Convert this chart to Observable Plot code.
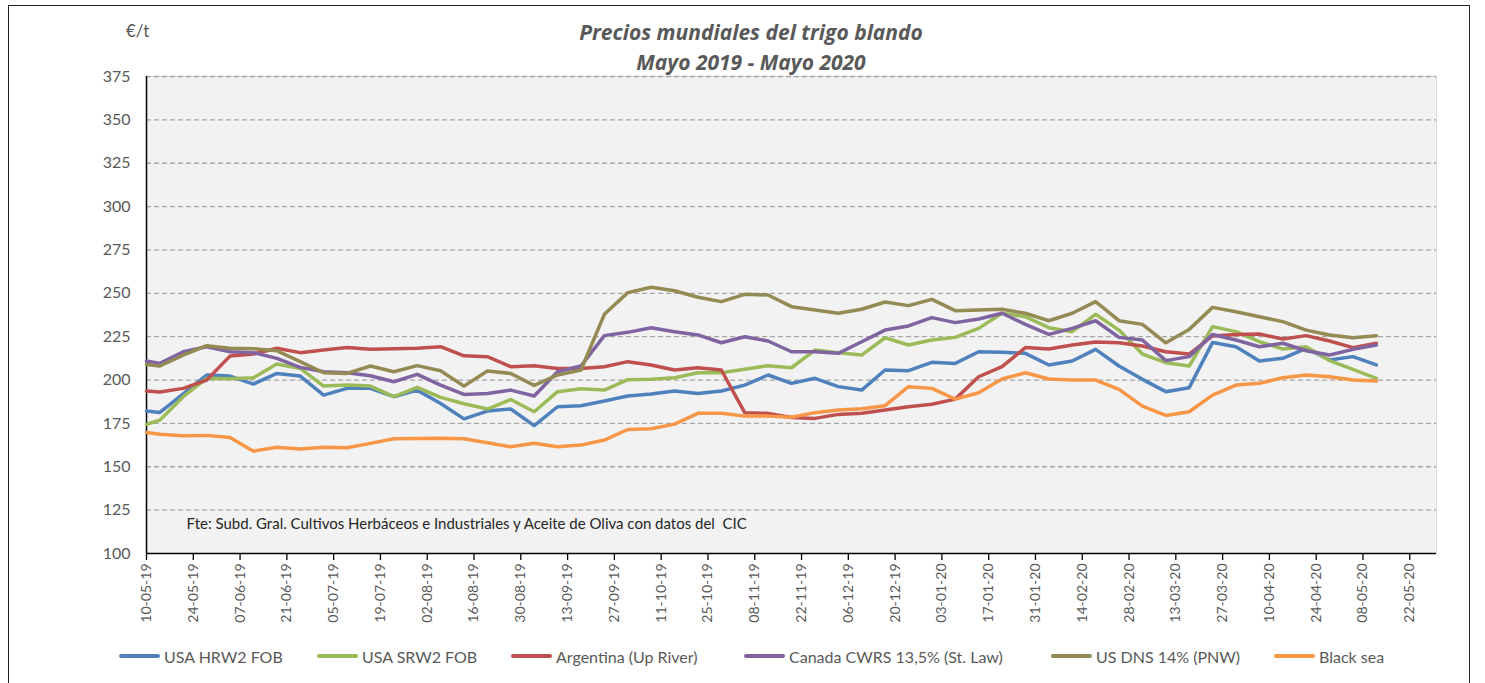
<!DOCTYPE html>
<html>
<head>
<meta charset="utf-8">
<script src="https://cdn.jsdelivr.net/npm/d3@7"></script>
<script src="https://cdn.jsdelivr.net/npm/@observablehq/plot@0.6"></script>
<style>
  html, body { margin: 0; padding: 0; background: #fff; }
  #wrap { position: relative; width: 1485px; height: 683px; overflow: hidden; font-family: Lato, "Open Sans", sans-serif; }
  #border { position: absolute; left: 8px; top: 5px; width: 1462px; height: 720px; border: 1.5px solid #222; box-sizing: border-box; }
  #title { position: absolute; left: 0; top: 17px; width: 1502px; text-align: center; font-family: "Open Sans", sans-serif; font-size: 21px; font-weight: bold; font-style: italic; color: #595959; line-height: 30px; }
  #unit { position: absolute; left: 126px; top: 20px; font-size: 17px; color: #595959; }
  #chart { position: absolute; left: 0; top: 0; }
  .leg { position: absolute; top: 646px; height: 20px; display: flex; align-items: center; font-size: 16px; color: #595959; white-space: nowrap; }
  .leg .sw { width: 41px; height: 4px; border-radius: 2px; margin-right: 4px; }
</style>
</head>
<body>
<div id="wrap">
  <div id="border"></div>
  <div id="chart"></div>
  <div id="title">Precios mundiales del trigo blando<br>Mayo 2019 - Mayo 2020</div>
  <div id="unit">€/t</div>
</div>
<script>
const dates = ["10-05-19","14-05-19","21-05-19","28-05-19","04-06-19","11-06-19","18-06-19","25-06-19",
  "02-07-19","09-07-19","16-07-19","23-07-19","30-07-19","06-08-19","13-08-19","20-08-19","27-08-19",
  "03-09-19","10-09-19","17-09-19","24-09-19","01-10-19","08-10-19","15-10-19","22-10-19","29-10-19",
  "05-11-19","12-11-19","19-11-19","26-11-19","03-12-19","10-12-19","17-12-19","24-12-19","31-12-19",
  "07-01-20","14-01-20","21-01-20","28-01-20","04-02-20","11-02-20","18-02-20","25-02-20",
  "03-03-20","10-03-20","17-03-20","24-03-20","31-03-20","07-04-20","14-04-20","21-04-20","28-04-20",
  "05-05-20","12-05-20"];

const seriesNames = ["USA HRW2 FOB","USA SRW2 FOB","Argentina (Up River)","Canada CWRS 13,5% (St. Law)","US DNS 14% (PNW)","Black sea"];
const seriesColors = ["#4f81bd","#9bbb59","#c0504d","#8064a2","#948a54","#f79646"];

const usaHrw2 = [182.1,181.3,192,202.9,202.3,197.7,203.8,202.3,191.3,195.2,195.2,190.4,194.2,186.5,177.6,182.1,183.3,173.7,184.6,185.2,187.9,190.8,191.9,193.7,192.3,193.7,197.1,202.9,198.1,201,196.2,194.2,205.8,205.4,210.2,209.6,216.3,216,215.4,208.7,211,217.7,208.1,200.4,193.3,195.6,221.7,219.2,211,212.5,218.3,211.5,213.5,208.7];
const usaSrw2 = [174.4,176.9,190.4,201,200.8,201.3,209.2,206.7,196.5,197.1,196.5,190.4,195.8,190,186.3,183.3,188.8,181.7,193.3,195,194.2,200.2,200.4,201.3,204.2,204.2,206.2,208.3,207.1,217.3,215.8,214.4,224.4,220.2,223.1,224.6,229.8,238.5,236.5,230.2,227.9,237.9,228.8,215,210,208.1,230.8,227.9,222.1,217.9,219.2,211.2,206.2,201];
const argentina = [193.7,193.1,195.2,200,213.8,215,218.3,215.8,217.3,218.7,217.7,218.1,218.3,219.2,214,213.5,207.7,208.3,206.7,206.7,207.7,210.6,208.7,205.8,207.1,205.8,181.2,180.8,178.4,177.9,180.2,180.8,182.7,184.6,186,189,201.9,207.7,218.7,217.9,220.2,221.9,221.5,219.6,216.3,215,225.4,226.3,226.5,223.7,225.6,222.5,218.7,221.2];
const canadaCwrs = [211,209.6,216.3,219.2,216.3,215.8,212.5,207.3,204.8,204.2,202.5,199,203.3,197.1,191.7,192.3,194.2,190.8,204.8,208.1,225.6,227.5,230.2,227.9,226,221.5,225,222.5,216.3,216.3,215.4,222.1,228.8,231.2,236,233.1,235.2,238.5,232.1,226.3,229.8,234.2,224.6,223.1,211.2,213.5,226.3,223.1,219.2,221.2,216.9,214.4,217.7,220.2];
const usDns = [209,208.1,214.4,219.8,218.3,218.1,216.9,210.6,204.2,203.8,208.1,204.8,208.3,205.4,196.5,205.2,203.8,196.9,202.9,205.8,237.9,250.4,253.5,251.5,247.7,245.2,249.4,249,242.3,240.4,238.5,240.8,245,242.9,246.5,240,240.4,240.8,238.5,234.2,238.5,245.2,234.2,232.1,221.5,229.2,241.9,239.4,236.5,233.7,228.8,226,224.4,225.6];
const blackSea = [169.8,168.8,167.9,168.1,166.9,159,161.2,160.2,161.2,161,163.5,166.2,166.3,166.5,166.2,163.8,161.5,163.5,161.5,162.5,165.4,171.5,171.9,174.6,180.8,180.8,179.2,179.2,178.6,181.2,182.7,183.5,185.2,196.2,195.2,189,192.7,200.6,204.2,200.6,200,200,194.6,185,179.6,181.7,191.3,197.1,198.1,201.3,202.9,201.9,200,199.4];

const xTickLabels = ["10-05-19","24-05-19","07-06-19","21-06-19","05-07-19","19-07-19","02-08-19","16-08-19",
  "30-08-19","13-09-19","27-09-19","11-10-19","25-10-19","08-11-19","22-11-19","06-12-19","20-12-19",
  "03-01-20","17-01-20","31-01-20","14-02-20","28-02-20","13-03-20","27-03-20","10-04-20","24-04-20",
  "08-05-20","22-05-20"];
const yTicks = [100,125,150,175,200,225,250,275,300,325,350,375];
const xDomain = ["10-05-19","30-05-20"];
const note = "Fte: Subd. Gral. Cultivos Herbáceos e Industriales y Aceite de Oliva con datos del\u00a0 CIC";

const parse = d3.utcParse("%d-%m-%y");
const fmt = d3.utcFormat("%d-%m-%y");
const allSeries = [usaHrw2, usaSrw2, argentina, canadaCwrs, usDns, blackSea];
const rows = [];
allSeries.forEach((vals, si) => {
  vals.forEach((v, i) => rows.push({series: seriesNames[si], date: parse(dates[i]), value: v}));
});
const xTicks = xTickLabels.map(parse);

const chart = Plot.plot({
  width: 1485,
  height: 640,
  marginLeft: 146,
  marginRight: 49,
  marginTop: 76,
  marginBottom: 87,
  style: {fontFamily: "Lato, 'Open Sans', sans-serif", background: "transparent", overflow: "visible"},
  x: {type: "utc", domain: xDomain.map(parse), label: null},
  y: {domain: [yTicks[0], yTicks[yTicks.length - 1]], label: null},
  color: {domain: seriesNames, range: seriesColors},
  marks: [
    Plot.frame({fill: "#f2f2f2", stroke: "#d9d9d9"}),
    Plot.gridY(yTicks.slice(1), {stroke: "#a6a6a6", strokeOpacity: 1, strokeWidth: 1.3, strokeDasharray: "5,3"}),
    Plot.axisY({ticks: yTicks, label: null, tickSize: 0, tickPadding: 16, fontSize: 16, fill: "#595959", tickFormat: d => String(d)}),
    Plot.axisX({ticks: xTicks, label: null, tickFormat: fmt, tickRotate: -90, tickSize: 7, tickPadding: 3, fontSize: 14, fill: "#595959", stroke: "#000", strokeWidth: 1.3}),
    Plot.ruleY([yTicks[0]], {stroke: "#000", strokeWidth: 1.5}),
    Plot.ruleX([parse(xDomain[0])], {stroke: "#000", strokeWidth: 1.5}),
    Plot.lineY(rows, {x: "date", y: "value", z: "series", stroke: "series", strokeWidth: 3.5, strokeLinejoin: "round", strokeLinecap: "round"}),
    Plot.text([note], {frameAnchor: "bottom-left", textAnchor: "start", lineAnchor: "middle", dx: 40, dy: -29, fontSize: 15, fill: "#262626"})
  ]
});
document.getElementById("chart").appendChild(chart);

// legend
const legLefts = [119, 317, 511, 744, 1051, 1274];
const wrap = document.getElementById("wrap");
seriesNames.forEach((name, i) => {
  const item = document.createElement("div");
  item.className = "leg";
  item.style.left = legLefts[i] + "px";
  const sw = document.createElement("div");
  sw.className = "sw";
  sw.style.background = seriesColors[i];
  const tx = document.createElement("span");
  tx.textContent = name;
  item.appendChild(sw);
  item.appendChild(tx);
  wrap.appendChild(item);
});
</script>
</body>
</html>
